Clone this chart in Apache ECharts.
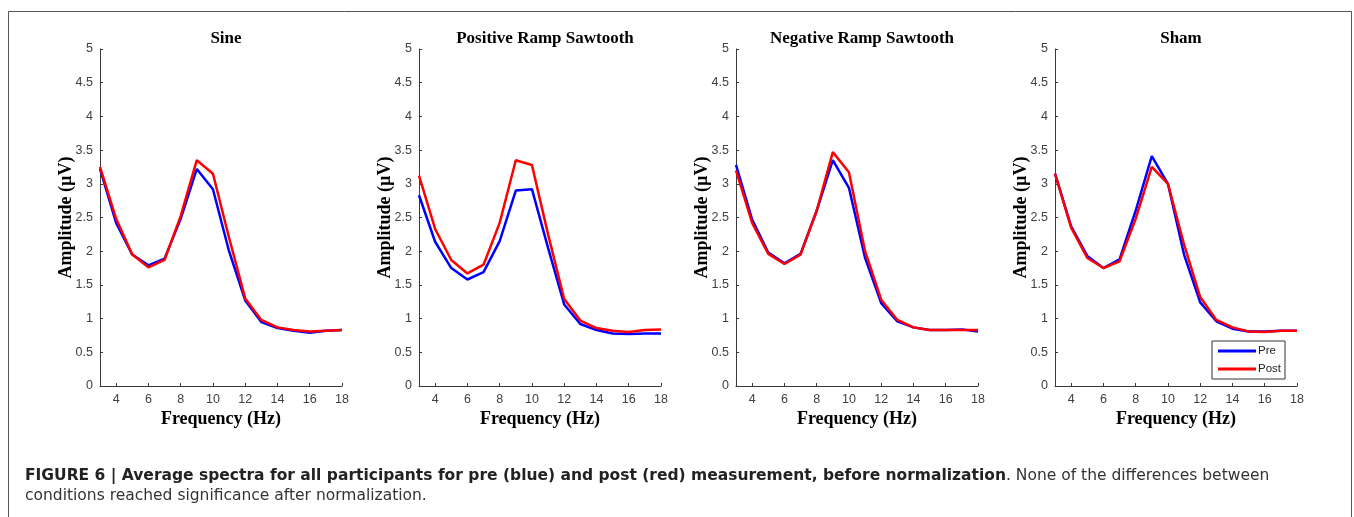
<!DOCTYPE html>
<html>
<head>
<meta charset="utf-8">
<script src="https://cdn.jsdelivr.net/npm/echarts@6/dist/echarts.min.js"></script>
<style>
html,body{margin:0;padding:0;background:#fff;}
#chart{width:1354px;height:517px;}
</style>
</head>
<body>
<div id="chart"></div>
<script>
// ---- data ----
var freqs = [3,4,5,6,7,8,9,10,11,12,13,14,15,16,17,18];
var xTicks = [4,6,8,10,12,14,16,18];
var panelTitles = ['Sine','Positive Ramp Sawtooth','Negative Ramp Sawtooth','Sham'];
var seriesNames = ['Pre','Post'];

var sinePre  = [3.22,2.42,1.95,1.79,1.89,2.48,3.22,2.92,2.00,1.27,0.95,0.86,0.82,0.79,0.82,0.83];
var sinePost = [3.25,2.48,1.95,1.76,1.87,2.52,3.35,3.15,2.20,1.30,0.98,0.87,0.83,0.81,0.82,0.83];

var posPre   = [2.83,2.14,1.75,1.58,1.69,2.15,2.90,2.92,2.05,1.21,0.92,0.83,0.78,0.77,0.78,0.78];
var posPost  = [3.12,2.33,1.87,1.67,1.80,2.42,3.35,3.28,2.25,1.29,0.97,0.86,0.82,0.80,0.83,0.84];

var negPre   = [3.28,2.47,1.98,1.82,1.96,2.60,3.35,2.94,1.90,1.23,0.96,0.87,0.83,0.83,0.84,0.81];
var negPost  = [3.20,2.42,1.96,1.81,1.95,2.60,3.47,3.17,2.00,1.28,0.98,0.87,0.83,0.83,0.83,0.83];

var shamPre  = [3.15,2.37,1.93,1.75,1.88,2.60,3.41,3.00,1.95,1.24,0.96,0.85,0.81,0.81,0.82,0.82];
var shamPost = [3.15,2.35,1.90,1.75,1.85,2.48,3.25,3.00,2.10,1.32,0.98,0.87,0.81,0.80,0.82,0.82];

var preData  = [sinePre, posPre, negPre, shamPre];
var postData = [sinePost, posPost, negPost, shamPost];

var captionBold = 'FIGURE 6 | Average spectra for all participants for pre (blue) and post (red) measurement, before normalization';
var captionRest1 = '. None of the differences between';
var captionRest2 = 'conditions reached significance after normalization.';

// ---- layout ----
var gridLefts = [100, 419, 736, 1055];
var gridWidth = 242;
var gridTop = 49;
var gridHeight = 337;
var serif = '"Liberation Serif","Times New Roman",serif';
var sans = '"Liberation Sans",Arial,sans-serif';
var capFont = '"DejaVu Sans",sans-serif';
var axisColor = '#3a3a3a';
var labelColor = '#404040';

function pairs(arr){ return freqs.map(function(f,i){ return [f, arr[i]]; }); }

var grids = [], xAxes = [], yAxes = [], series = [], titles = [];
for (var p = 0; p < 4; p++) {
  grids.push({left: gridLefts[p], top: gridTop, width: gridWidth, height: gridHeight, containLabel: false});
  titles.push({
    text: panelTitles[p],
    left: gridLefts[p] + gridWidth/2, top: 25, textAlign: 'center',
    textStyle: {fontFamily: serif, fontWeight: 'bold', fontSize: 17, color: '#000'}
  });
  xAxes.push({
    type: 'value', gridIndex: p, min: 3, max: 18,
    name: 'Frequency (Hz)', nameLocation: 'middle', nameGap: 24,
    nameMoveOverlap: false,
    nameTextStyle: {fontFamily: serif, fontWeight: 'bold', fontSize: 18, color: '#000'},
    axisLine: {show: true, lineStyle: {color: axisColor, width: 1}},
    axisTick: {show: true, inside: true, length: 3, lineStyle: {color: axisColor}, customValues: xTicks},
    axisLabel: {show: true, customValues: xTicks, fontFamily: sans, fontSize: 12.5, color: labelColor, margin: 7},
    splitLine: {show: false}
  });
  yAxes.push({
    type: 'value', gridIndex: p, min: 0, max: 5, interval: 0.5,
    name: 'Amplitude (\u00b5V)', nameLocation: 'middle', nameGap: 25, nameRotate: 90,
    nameMoveOverlap: false,
    nameTextStyle: {fontFamily: serif, fontWeight: 'bold', fontSize: 18, color: '#000'},
    axisLine: {show: true, lineStyle: {color: axisColor, width: 1}},
    axisTick: {show: true, inside: true, length: 3, lineStyle: {color: axisColor}},
    axisLabel: {fontFamily: sans, fontSize: 12.5, color: labelColor, margin: 7},
    splitLine: {show: false}
  });
  series.push({
    name: seriesNames[0], type: 'line', xAxisIndex: p, yAxisIndex: p,
    data: pairs(preData[p]), symbol: 'none', showSymbol: false,
    lineStyle: {color: '#0000ff', width: 2.5}, itemStyle: {color: '#0000ff'},
    animation: false, z: 2
  });
  series.push({
    name: seriesNames[1], type: 'line', xAxisIndex: p, yAxisIndex: p,
    data: pairs(postData[p]), symbol: 'none', showSymbol: false,
    lineStyle: {color: '#ff0000', width: 2.5}, itemStyle: {color: '#ff0000'},
    animation: false, z: 3
  });
}

titles.push({
  text: '{b|' + captionBold + '}{n|' + captionRest1 + '}\n{n|' + captionRest2 + '}',
  left: 20, top: 461,
  textStyle: {
    rich: {
      b: {fontFamily: capFont, fontWeight: 'bold', fontSize: 15.5, color: '#222', lineHeight: 20},
      n: {fontFamily: capFont, fontWeight: 'normal', fontSize: 15.5, color: '#333', lineHeight: 20}
    }
  }
});

var option = {
  backgroundColor: '#ffffff',
  animation: false,
  title: titles,
  grid: grids,
  xAxis: xAxes,
  yAxis: yAxes,
  legend: {
    data: seriesNames,
    orient: 'vertical',
    left: 1212, top: 341,
    icon: 'rect', itemWidth: 38, itemHeight: 3, itemGap: 6,
    borderColor: '#333', borderWidth: 1, padding: [4, 4, 4, 6],
    backgroundColor: '#fff',
    textStyle: {fontFamily: sans, fontSize: 11.5, color: '#222', padding: [0,0,0,-3]}
  },
  graphic: [{
    type: 'rect', silent: true,
    shape: {x: 8.5, y: 11.5, width: 1343, height: 520},
    style: {fill: 'none', stroke: '#555', lineWidth: 1}
  }],
  series: series
};

var chart = echarts.init(document.getElementById('chart'), null, {renderer: 'canvas'});
chart.setOption(option);
</script>
</body>
</html>
